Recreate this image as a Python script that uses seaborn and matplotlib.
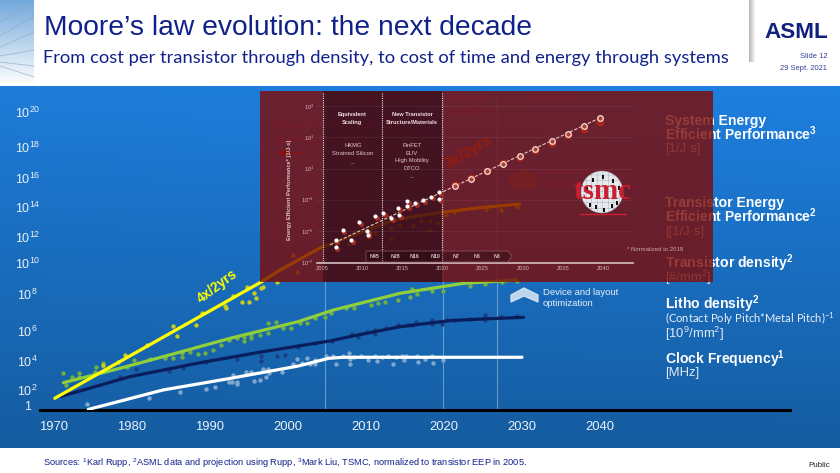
"""
Moore's law evolution slide, redrawn with seaborn.
"""

import numpy as np
import pandas as pd
import seaborn as sns
import matplotlib
matplotlib.use("Agg")
import matplotlib.pyplot as plt
from matplotlib.patches import Rectangle, Polygon, Circle

# ─── Data : main chart (year, log10 value) ────────────────────────────────────

x_ticks = [1970, 1980, 1990, 2000, 2010, 2020, 2030, 2040]
y_tick_labels = ["1", "$10^{2}$", "$10^{4}$", "$10^{6}$", "$10^{8}$", "$10^{10}$",
                 "$10^{12}$", "$10^{14}$", "$10^{16}$", "$10^{18}$", "$10^{20}$"]
y_tick_pos = [0.27, 1.35, 3.3, 5.3, 7.8, 9.9, 11.65, 13.7, 15.6, 17.7, 20.07]

transistor_eep_year = [1970.1, 1980, 1990, 1996.8, 1999, 2004.1, 2009.2, 2013.5, 2019.1, 2024.2, 2029.7]
transistor_eep_val = [0.79, 3.72, 6.68, 8.69, 9.43, 10.91, 11.92, 12.79, 13.27, 13.60, 13.87]

density_year = [1971.2, 1977.6, 1984, 1992.6, 2001.3, 2005.8, 2014.4, 2022.5, 2029.3]
density_val = [1.84, 2.69, 3.59, 4.83, 5.95, 6.73, 7.86, 8.53, 8.75]

litho_year = [1970.8, 1979.7, 1988.3, 1996.8, 2005.4, 2007.9, 2014.4, 2020.8, 2025, 2030.2]
litho_val = [0.90, 2.24, 3.14, 3.93, 4.65, 4.94, 5.61, 6.02, 6.13, 6.24]

clock_year = [1974.4, 1984, 1992.6, 2001.3, 2005.2, 2007.1, 2030]
clock_val = [0.04, 1.35, 2.13, 2.96, 3.48, 3.55, 3.55]

eep_dots_year = [1976.3, 1978.2, 1979.1, 1981.9, 1985.2, 1985.8, 1988.2, 1989.0, 1991.9, 1992.1,
                 1992.9, 1994.1, 1995.0, 1995.6, 1995.9, 1994.8, 1996.6, 1996.8, 1998.6, 2000.7,
                 2001.2, 2007.7, 2011.2, 2013.2, 2013.2, 2014.3, 2016.0, 2017.1, 2018.2, 2018.2,
                 2019.2, 2020.3, 2021.3, 2025.4, 2027.3, 2029.3]
eep_dots_val = [3.03, 3.25, 3.70, 4.38, 5.68, 5.01, 5.70, 6.51, 7.03, 6.85,
                7.70, 7.27, 7.25, 7.86, 7.52, 8.26, 8.19, 8.31, 8.60, 10.44,
                9.27, 11.16, 11.90, 11.49, 12.28, 12.46, 12.41, 12.75, 12.12, 12.75,
                12.57, 13.13, 13.36, 13.54, 13.47, 13.69]

density_dots_year = [1971.2, 1971.5, 1972.3, 1973.2, 1973.2, 1975.4, 1975.3, 1976.3, 1976.3, 1979.4,
                     1980.3, 1982.3, 1984.2, 1985.3, 1986.4, 1986.4, 1987.4, 1988.4, 1989.4, 1990.4,
                     1991.4, 1992.5, 1993.4, 1994.3, 1994.3, 1995.3, 1995.3, 1996.4, 1997.4, 1997.4,
                     1998.5, 1999.4, 2000.4, 2001.5, 2002.5, 2003.5, 2004.7, 2005.5, 2007.5, 2008.5,
                     2010.7, 2011.5, 2012.5, 2014.1, 2015.6, 2015.9, 2016.5, 2018.5, 2019.9, 2022.5,
                     2023.3, 2025.3, 2027.4, 2029.4]
density_dots_val = [2.47, 1.68, 2.20, 2.51, 2.24, 2.92, 2.58, 3.19, 2.96, 2.92,
                    3.37, 3.41, 3.52, 3.52, 3.82, 3.59, 3.88, 3.77, 3.82, 4.04,
                    4.38, 4.71, 4.83, 4.67, 4.94, 5.05, 4.83, 5.05, 5.84, 5.16,
                    5.90, 5.54, 5.54, 5.88, 5.84, 6.22, 6.24, 6.51, 6.85, 6.87,
                    7.07, 7.23, 7.27, 7.41, 7.63, 8.17, 7.83, 8.04, 8.01, 8.60,
                    8.37, 8.48, 8.62, 8.66]

litho_dots_year = [1978.5, 1980.5, 1984.8, 1986.5, 1989.5, 1993.5, 1996.5, 1996.6, 1998.6, 1999.6,
                   2001.3, 2003.5, 2005.6, 2008.2, 2009.0, 2010.1, 2011.2, 2011.2, 2012.6, 2014.1,
                   2015.4, 2015.9, 2016.4, 2018.4, 2018.5, 2019.7, 2020.4, 2021.3, 2023.3, 2025.3,
                   2025.3, 2027.3, 2029.4]
litho_dots_val = [2.22, 2.78, 2.60, 2.85, 3.21, 3.43, 3.30, 3.64, 3.66, 3.70,
                  4.26, 4.53, 4.67, 5.10, 4.89, 5.25, 5.36, 5.10, 5.54, 5.70,
                  5.72, 5.72, 5.90, 6.06, 5.79, 5.79, 6.06, 6.06, 6.11, 6.40,
                  6.06, 6.29, 6.35]

clock_dots_year = [1974.2, 1982.2, 1986.2, 1989.5, 1990.6, 1992.4, 1992.8, 1993.0, 1993.4, 1993.4,
                   1994.6, 1995.3, 1995.7, 1996.4, 1996.8, 1997.2, 1997.4, 1997.6, 1999.2, 2000.7,
                   2001.2, 2001.8, 2002.4, 2002.8, 2003.5, 2003.5, 2004.9, 2005.8, 2006.1, 2007.1,
                   2007.8, 2008.0, 2008.0, 2008.4, 2009.3, 2010.3, 2011.2, 2011.4, 2012.1, 2012.8,
                   2013.5, 2013.9, 2014.6, 2014.9, 2015.1, 2016.5, 2016.7, 2017.6, 2018.5, 2018.6,
                   2019.9]
clock_dots_val = [0.43, 0.79, 1.23, 1.44, 1.57, 1.86, 1.86, 2.33, 1.75, 1.91,
                  2.58, 2.58, 1.98, 2.02, 2.78, 2.20, 2.78, 2.47, 2.56, 3.10,
                  3.41, 3.19, 3.48, 3.10, 3.10, 3.37, 3.64, 3.64, 3.12, 3.64,
                  3.82, 3.41, 3.10, 3.59, 3.64, 3.37, 3.64, 3.32, 3.59, 3.66,
                  3.10, 3.55, 3.64, 3.37, 3.64, 3.64, 3.21, 3.41, 3.64, 3.14,
                  3.37]

era_lines = [2004.7, 2019.9, 2026.8]

# ─── Data : TSMC inset (year, log10 value) ────────────────────────────────────

inset_x_ticks = [2005, 2010, 2015, 2020, 2025, 2030, 2035, 2040]
inset_y_ticks = [-7, -5, -3, -1, 1, 3]
inset_y_labels = ["$10^{-7}$", "$10^{-5}$", "$10^{-3}$", "$10^{1}$", "$10^{1}$", "$10^{3}$"]

public_year = [2006.7, 2006.7, 2007.6, 2008.6, 2009.6, 2010.6, 2010.7, 2011.6, 2012.6, 2013.6,
               2014.5, 2014.6, 2015.6, 2015.6, 2016.6, 2017.6, 2018.6, 2019.6, 2019.6]
public_val = [-5.57, -6.06, -4.97, -5.59, -4.43, -4.99, -5.24, -4.04, -3.85, -4.19,
              -3.55, -3.98, -3.10, -3.42, -3.23, -3.04, -2.80, -2.50, -2.95]

target_year = [2021.6, 2023.5, 2025.5, 2027.6, 2029.6, 2031.5, 2033.6, 2035.6, 2037.6, 2039.6]
target_val = [-2.10, -1.65, -1.18, -0.68, -0.21, 0.24, 0.75, 1.22, 1.74, 2.23]
target_shadow_val = [-2.03, -1.58, -1.13, -0.64, -0.28, 0.22, 0.64, 1.14, 1.52, 1.97]

trend_year = [2006.0, 2040.0]
trend_val = [-5.9, 2.35]

node_names = ["N45", "N28", "N16", "N10", "N7", "N5", "N3"]
node_x = [375, 395, 415, 436, 456, 477, 497]

# ─── Style ────────────────────────────────────────────────────────────────────

sns.set_theme(style="white")
plt.rcParams["font.family"] = ["Liberation Sans", "DejaVu Sans"]
plt.rcParams["mathtext.default"] = "regular"

W, H = 840, 473
NAVY = "#10218B"
fig = plt.figure(figsize=(W / 100, H / 100), dpi=100)
fig.patch.set_facecolor("white")


def px_axes(zorder):
    # full figure axes working in image pixels
    ax = fig.add_axes([0, 0, 1, 1], zorder=zorder)
    ax.set_xlim(0, W)
    ax.set_ylim(H, 0)
    ax.axis("off")
    ax.patch.set_alpha(0)
    return ax


def pt(px):
    return px * 0.72


# ─── Background, header, footer ───────────────────────────────────────────────

bg = px_axes(0)
rows = np.linspace(0, 1, 120)[:, None]
cols = np.linspace(0, 1, 120)[None, :]
red = 30 - 9 * rows
green = 124 - 32 * rows + 4 * cols * (1 - rows)
blue = 216 - 56 * rows + 8 * cols * (1 - rows)
grad = np.dstack([red + 0 * cols, green, blue]) / 255
bg.imshow(grad, extent=(0, W, 448, 87), aspect="auto", zorder=0)

# picture strip at the left of the header
strip = np.dstack([np.linspace(0.45, 1, 60)[:, None], np.linspace(0.66, 1, 60)[:, None],
                   np.linspace(0.86, 1, 60)[:, None]])
bg.imshow(strip, extent=(0, 34, 86, 0), aspect="auto", zorder=1)
for y0, y1 in [(22, 4), (36, 16), (47, 32), (56, 50), (62, 66), (66, 77)]:
    bg.plot([0, 34], [y0, y1], color="#8fa9c2", lw=0.6, alpha=0.7, zorder=2)

shadow = np.linspace(0.72, 1, 12)[None, :]
bg.imshow(shadow, cmap="gray", vmin=0, vmax=1, extent=(749, 756, 62, 0), aspect="auto", zorder=1)
bg.set_xlim(0, W)
bg.set_ylim(H, 0)

bg.text(44, 28, "Moore’s law evolution: the next decade", color=NAVY, fontsize=pt(28.2), va="center")
bg.text(43, 58, "From cost per transistor through density, to cost of time and energy through systems",
        color=NAVY, fontsize=pt(18.4), va="center", family=["Lato", "Liberation Sans"])
bg.text(828, 32, "ASML", color="#10207F", fontsize=pt(22.5), fontweight="bold", ha="right", va="center")
bg.text(827, 57, "Slide 12", color="#33409A", fontsize=pt(7.5), ha="right", va="center")
bg.text(827, 68, "29 Sept. 2021", color="#33409A", fontsize=pt(7.5), ha="right", va="center")
bg.text(43, 463, "Sources: $^{1}$Karl Rupp, $^{2}$ASML data and projection using Rupp, "
        "$^{3}$Mark Liu, TSMC, normalized to transistor EEP in 2005.",
        color=NAVY, fontsize=pt(9.3), va="center")
bg.text(830, 465, "Public", color="#222222", fontsize=pt(8), ha="right", va="center")

# ─── Series labels on the right ───────────────────────────────────────────────

bold = dict(color="white", fontsize=pt(14), fontweight="bold", va="center")
thin = dict(color="#dfe9f4", fontsize=pt(13), va="center")
bg.text(665, 121, "System Energy", **bold)
bg.text(665, 134, "Efficient Performance$^{3}$", **bold)
bg.text(665, 149, "[1/J·s]", **thin)
bg.text(665, 203, "Transistor Energy", **bold)
bg.text(665, 216, "Efficient Performance$^{2}$", **bold)
bg.text(665, 232, "[[1/J·s]", **thin)
bg.text(665, 263, "Transistor density$^{2}$", **bold)
bg.text(665, 278, "[#/mm$^{2}$]", **thin)
bg.text(665, 304, "Litho density$^{2}$", **bold)
bg.text(665, 319, "(Contact Poly Pitch*Metal Pitch)$^{-1}$", color="#e8eff8", fontsize=pt(11.2), va="center",
        family=["Lato", "Liberation Sans"])
bg.text(665, 334, "[10$^{9}$/mm$^{2}$]", **thin)
bg.text(665, 359, "Clock Frequency$^{1}$", **bold)
bg.text(665, 373, "[MHz]", **thin)

# annotations that sit under the red panel
under = dict(color="#7D55B4", fontsize=pt(9.3), va="center")
big_under = dict(color="#7D55B4", fontsize=pt(11.5), va="center")
bg.text(295, 125, "Dennard", ha="center", **big_under)
bg.text(295, 140, "scaling", ha="center", **big_under)
bg.text(330, 125, "Post Dennard", ha="left", **big_under)
bg.text(330, 140, "scaling", ha="left", **big_under)
bg.annotate("", xy=(274, 153), xytext=(307, 153),
            arrowprops=dict(arrowstyle="-|>", color="#c0304a", lw=1))
bg.text(378, 98, "Public data", ha="center", **under)
bg.text(450, 98, "Customer", ha="left", **under)
bg.text(450, 110, "projection", ha="left", **under)
bg.text(553, 98, "Speculation", ha="center", **under)
bg.text(543, 172, "From transistor to", ha="left", **under)
bg.text(543, 184, "system scaling", ha="left", **under)
bg.text(469, 152, "3x/2yrs", color="#FF6020", fontsize=pt(15), fontweight="bold",
        rotation=30, ha="center", va="center")
bg.add_patch(Polygon([(510, 176), (523, 170), (537, 176), (537, 188), (510, 188)], color="#a07860", alpha=0.4))

bg.text(543, 292, "Device and layout", color="#e8eff8", fontsize=pt(9.5), va="center")
bg.text(543, 303, "optimization", color="#e8eff8", fontsize=pt(9.5), va="center")
bg.add_patch(Polygon([(511, 295), (524, 288), (538, 295), (538, 302), (524, 296), (511, 302)],
                     color="#dbe8f5", alpha=0.85))

# ─── Main chart ───────────────────────────────────────────────────────────────

ax = fig.add_axes([40 / W, 1 - 410 / H, 750 / W, 313 / H], zorder=1)
ax.patch.set_alpha(0)

for v in era_lines:
    ax.axvline(v, color="#a8c8e4", lw=0.8, alpha=0.55, zorder=1)

dot_sets = [
    (density_dots_year, density_dots_val, "#6fae45"),
    (litho_dots_year, litho_dots_val, "#1a3f80"),
    (clock_dots_year, clock_dots_val, "#7fa8cc"),
    (eep_dots_year, eep_dots_val, "#c4cb22"),
]
for xs, ys, c in dot_sets:
    sns.scatterplot(x=xs, y=ys, color=c, s=10, linewidth=0, ax=ax, zorder=2)

line_sets = [
    (density_year, density_val, "#90cf3c"),
    (litho_year, litho_val, "#0a1d5c"),
    (clock_year, clock_val, "white"),
    (transistor_eep_year, transistor_eep_val, "#FFFF00"),
]
for xs, ys, c in line_sets:
    sns.lineplot(x=xs, y=ys, color=c, lw=2.3, estimator=None, sort=False, ax=ax, zorder=3,
                 solid_capstyle="round")

ax.set_xlim(1970 - 14 / 7.8, 1970 + 736 / 7.8)
ax.set_ylim(0, 313 / 14.85)
ax.set_xticks(x_ticks)
ax.set_yticks(y_tick_pos)
ax.set_yticklabels(y_tick_labels, ha="center")
ax.tick_params(axis="x", length=0, pad=8, labelsize=pt(13), labelcolor="#eaf1f8")
ax.tick_params(axis="y", length=0, pad=9, labelsize=pt(12.5), labelcolor="#eaf1f8")
sns.despine(ax=ax, left=True)
ax.spines["bottom"].set_color("black")
ax.spines["bottom"].set_linewidth(2.2)
ax.annotate("4x/2yrs", xy=(217 / W, 1 - 286 / H), xycoords="figure fraction", color="#FFFF00",
            fontsize=pt(13.5), fontweight="bold", rotation=37, ha="center", va="center")

# ─── Red panel laid over the chart ────────────────────────────────────────────

over = px_axes(2)
over.add_patch(Rectangle((260, 91), 453, 191, facecolor="#7D0A05", edgecolor="none", alpha=0.8))
over.add_patch(Rectangle((323, 91), 119, 191, facecolor="#200818", edgecolor="none", alpha=0.5))

# ─── TSMC inset ───────────────────────────────────────────────────────────────

ins = fig.add_axes([317 / W, 1 - 263 / H, 316 / W, 171 / H], zorder=3)
ins.patch.set_alpha(0)
ins.set_xlim(2005 - 5 / 8.03, 2005 + 311 / 8.03)
ins.set_ylim(-7 - 1 / 15.57, -7 + 170 / 15.57)

for v in [2005.1, 2012.5, 2019.9]:
    ins.axvline(v, color="#e8dcdc", lw=0.8, ls=(0, (1, 1)), zorder=1)
ins.grid(axis="y", color="white", alpha=0.06, lw=0.8)

sns.lineplot(x=trend_year, y=trend_val, color="#e8c8b8", lw=0.8, ls=(0, (3, 1.5)), estimator=None, ax=ins, zorder=2)
sns.scatterplot(x=[v + 0.2 for v in public_year], y=[v - 0.12 for v in public_val], color="#9a2a22", s=14,
                linewidth=0, ax=ins, zorder=3)
sns.scatterplot(x=target_year, y=target_shadow_val, color="#a5291f", s=34, linewidth=0, ax=ins, zorder=3)
sns.scatterplot(x=public_year, y=public_val, color="white", s=9, linewidth=0, ax=ins, zorder=4)
sns.scatterplot(x=target_year, y=target_val, color="#b03e32", edgecolor="#f4e4dc", s=16, linewidth=0.9,
                ax=ins, zorder=4)

ins.set_xticks(inset_x_ticks)
ins.set_yticks(inset_y_ticks)
ins.set_yticklabels(inset_y_labels)
ins.tick_params(length=0, pad=2, labelsize=pt(5.8), labelcolor="#d2b4b4")
ins.set_ylabel("Energy Efficient Performance* [1/J·s]", fontsize=pt(5.6), fontweight="bold", color="#dcc4c4")
ins.yaxis.set_label_coords(-0.079, 0.427)
sns.despine(ax=ins, left=True)
ins.spines["bottom"].set_color("#d8c0c0")
ins.spines["bottom"].set_linewidth(1.2)

# ─── Inset texts and TSMC logo ────────────────────────────────────────────────

top = px_axes(4)
head = dict(color="#eee0e0", fontsize=pt(5.6), fontweight="bold", ha="center", va="center")
body = dict(color="#dcc8c8", fontsize=pt(5.9), ha="center", va="center")
top.text(352, 114, "Equivalent", **head)
top.text(352, 122, "Scaling", **head)
top.text(412, 114, "New Transistor", **head)
top.text(412, 122, "Structure/Materials", **head)
for y, s in zip([145, 153, 162], ["HKMG", "Strained Silicon", "..."]):
    top.text(353, y, s, **body)
for y, s in zip([145, 153, 160, 168, 176], ["FinFET", "EUV", "High Mobility", "DTCO", "..."]):
    top.text(412, y, s, **body)
top.text(627, 249, "* Normalized to 2018", color="#c8a8a8", fontsize=pt(6), va="center")

top.add_patch(Polygon([(366, 251), (508, 251), (512, 256), (508, 262), (366, 262)],
                      facecolor=(0.1, 0.02, 0.05, 0.35), edgecolor="#8d5a60", lw=0.5))
for x, s in zip(node_x, node_names):
    top.text(x, 256, s, color="#d8c4c4", fontsize=pt(5.2), fontweight="bold", ha="center", va="center")

plt.rcParams["hatch.linewidth"] = 0.25
top.add_patch(Circle((602, 192), 21, facecolor="#e6e9ee", edgecolor="#98a0aa", lw=0.3, hatch="+++"))
for bx, by in [(602, 175), (592, 178), (612, 179), (586, 187), (618, 186),
               (595, 205), (603, 208), (611, 204), (589, 203), (616, 201)]:
    top.add_patch(Rectangle((bx, by), 2, 4, facecolor="#111111", edgecolor="none"))
top.text(602, 191, "tsmc", color="#c91f30", fontsize=pt(29), fontweight="bold", family="Liberation Serif",
         ha="center", va="center")
top.plot([580, 626], [214, 214], color="#c91f30", lw=1.0)

plt.savefig("out.png", dpi=100)
